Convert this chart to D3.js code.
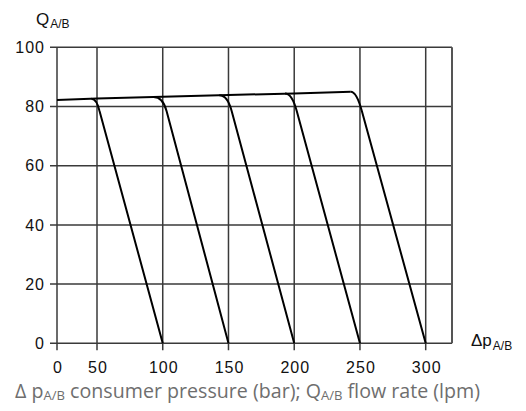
<!DOCTYPE html>
<html><head><meta charset="utf-8">
<script src="https://cdn.jsdelivr.net/npm/d3@7"></script>
<style>
body{margin:0;background:#fff;}
svg{display:block;}
</style></head>
<body>
<svg id="c" width="526" height="411"></svg>
<script>
// ---- data ----
const pressureTicks = [0, 50, 100, 150, 200, 250, 300];
const flowTicks = [0, 20, 40, 60, 80, 100];
// common plateau line (pressure, flow)
const plateauP = [0, 50, 100, 150, 200, 243];
const plateauQ = [82.2, 82.7, 83.3, 83.9, 84.4, 85.0];
// drop-off curves: where the bend starts, flow at plateau, pressure at Q=80, pressure at Q=0
const bendStartP = [43, 93, 143, 193, 243];
const bendQ = [82.6, 83.2, 83.8, 84.4, 85.0];
const crossP80 = [51, 102, 151.5, 201, 250.5];
const zeroP = [100, 150, 200, 250, 300];

const svg = d3.select("#c");
const x = d3.scaleLinear().domain([0, 50, 320]).range([57, 97, 452]);
const y = d3.scaleLinear().domain([0, 100]).range([343.3, 47.3]);

const gridColor = "#3a3a3a";
const tickFont = "'Liberation Sans', Arial, sans-serif";

// grid
const g = svg.append("g");
g.selectAll("line.v").data(pressureTicks).join("line")
  .attr("x1", d => x(d)).attr("x2", d => x(d))
  .attr("y1", y(0) + 7).attr("y2", y(100))
  .attr("stroke", gridColor).attr("stroke-width", 1.5);
g.selectAll("line.h").data(flowTicks).join("line")
  .attr("x1", x(0) - 7).attr("x2", x(320))
  .attr("y1", d => y(d)).attr("y2", d => y(d))
  .attr("stroke", gridColor).attr("stroke-width", 1.5);
g.append("line").attr("x1", x(320)).attr("x2", x(320))
  .attr("y1", y(0)).attr("y2", y(100))
  .attr("stroke", "#555").attr("stroke-width", 2);

// axes (labels only, ticks drawn via grid)
const ax = d3.axisBottom(x).tickValues(pressureTicks).tickSize(7).tickPadding(11);
const xa = svg.append("g").attr("transform", `translate(0,${y(0)})`).call(ax);
const ay = d3.axisLeft(y).tickValues(flowTicks).tickSize(7).tickPadding(5);
const ya = svg.append("g").attr("transform", `translate(${x(0)},0)`).call(ay);
[xa, ya].forEach(a => {
  a.select(".domain").remove();
  a.selectAll(".tick line").remove();
  a.selectAll(".tick text").attr("font-family", tickFont).attr("font-size", 16)
    .attr("letter-spacing", "1px").attr("fill", "#111");
});
xa.selectAll(".tick text").attr("dx", "0.5px");

// plateau line
const line = d3.line().x(d => x(d[0])).y(d => y(d[1]));
svg.append("path").datum(d3.zip(plateauP, plateauQ))
  .attr("d", line).attr("fill", "none").attr("stroke", "#000").attr("stroke-width", 2);

// drop curves
bendStartP.forEach((p0, i) => {
  const q0 = bendQ[i];
  const slope = (zeroP[i] - crossP80[i]) / 80; // bar per lpm
  const kneeP = crossP80[i] - (q0 - 80) * slope;
  const endQ = 78.5;
  const endP = crossP80[i] + (80 - endQ) * slope;
  const path = d3.path();
  path.moveTo(x(p0), y(q0));
  path.quadraticCurveTo(x(kneeP), y(q0), x(endP), y(endQ));
  path.lineTo(x(zeroP[i]), y(0));
  svg.append("path").attr("d", path.toString())
    .attr("fill", "none").attr("stroke", "#000").attr("stroke-width", 2)
    .attr("stroke-linejoin", "round");
});

// axis titles
const yt = svg.append("text").attr("x", 36).attr("y", 25)
  .attr("font-family", tickFont).attr("font-size", 17).attr("fill", "#111");
yt.append("tspan").text("Q");
yt.append("tspan").attr("font-size", 12).attr("dy", 3).attr("dx", 1).text("A/B");

const xt = svg.append("text").attr("x", 471).attr("y", 346)
  .attr("font-family", tickFont).attr("font-size", 17).attr("fill", "#111");
xt.append("tspan").text("Δp");
xt.append("tspan").attr("font-size", 12).attr("dy", 4).attr("dx", 1).text("A/B");

// caption
const cap = svg.append("text").attr("x", 15).attr("y", 398)
  .attr("font-family", "'Open Sans', sans-serif").attr("font-size", 19.5).attr("fill", "#6e6e6e");
cap.append("tspan").text("Δ p");
cap.append("tspan").attr("font-size", 13).attr("dy", 2).text("A/B");
cap.append("tspan").attr("dy", -2).text(" consumer pressure (bar); Q");
cap.append("tspan").attr("font-size", 13).attr("dy", 2).text("A/B");
cap.append("tspan").attr("dy", -2).text(" flow rate (lpm)");
const w = cap.node().getComputedTextLength();
if (w > 0) cap.attr("textLength", 465).attr("lengthAdjust", "spacingAndGlyphs");
</script>
</body></html>
